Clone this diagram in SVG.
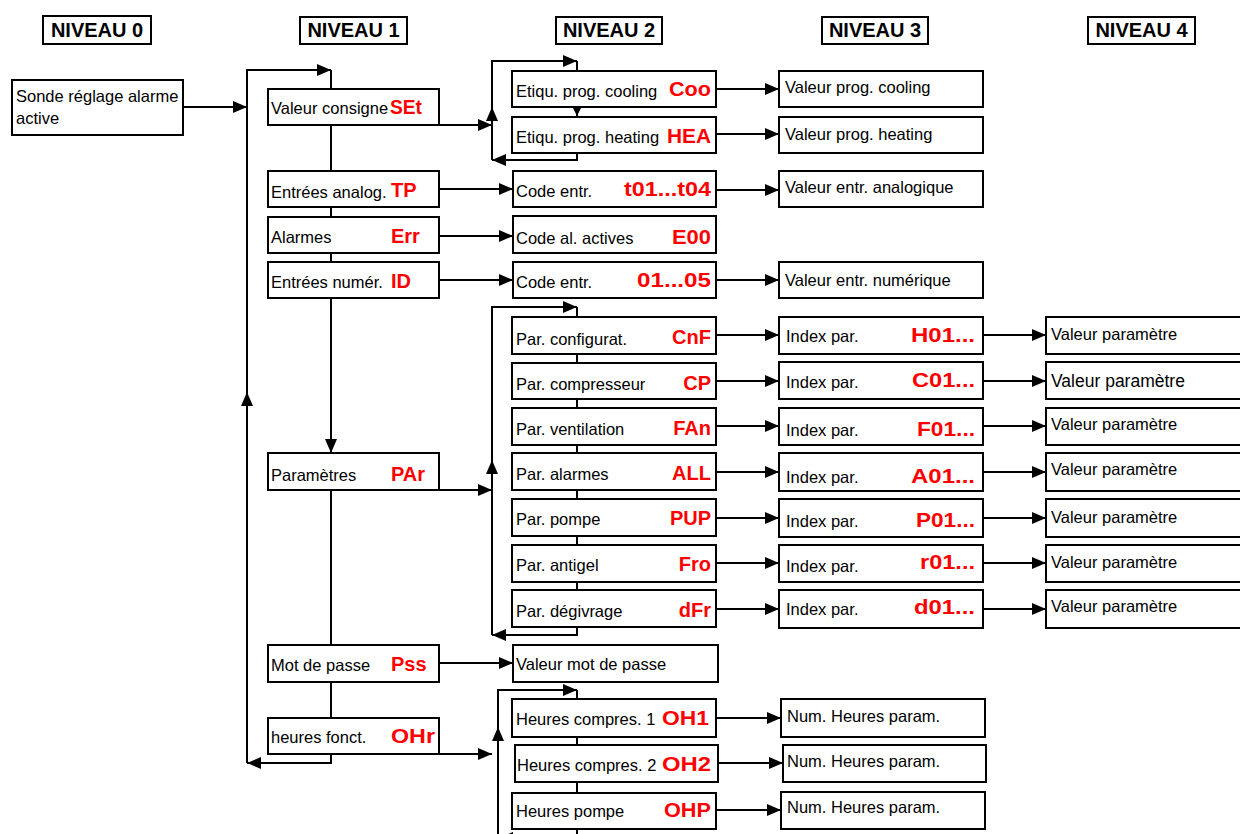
<svg xmlns="http://www.w3.org/2000/svg" width="1240" height="834" viewBox="0 0 1240 834">
<style>
.box{fill:#fff;stroke:#000;stroke-width:2}
.t{font-family:"Liberation Sans",Arial,sans-serif;font-size:16.5px;fill:#000}
.c{font-family:"Liberation Sans",Arial,sans-serif;font-size:20px;font-weight:bold;fill:#ff0000}
.e{text-anchor:end}
.h{font-family:"Liberation Sans",Arial,sans-serif;font-size:20px;font-weight:bold;fill:#000;text-anchor:middle}
.ln{fill:none;stroke:#000;stroke-width:2}
</style>
<defs>
<marker id="a" markerUnits="userSpaceOnUse" markerWidth="14" markerHeight="12" refX="14" refY="6" orient="auto"><path d="M0,0L14,6L0,12z" fill="#000"/></marker>
<marker id="s" markerUnits="userSpaceOnUse" markerWidth="8" markerHeight="8" refX="8" refY="4" orient="auto"><path d="M0,0L8,4L0,8z" fill="#000"/></marker>
</defs>

<g id="titles">
<rect class="box" x="43" y="16" width="108" height="28"/><text class="h" x="97" y="37">NIVEAU 0</text>
<rect class="box" x="300" y="17" width="107" height="27"/><text class="h" x="353.5" y="37">NIVEAU 1</text>
<rect class="box" x="556" y="17" width="106" height="27"/><text class="h" x="609" y="37">NIVEAU 2</text>
<rect class="box" x="822" y="17" width="106" height="27"/><text class="h" x="875" y="37">NIVEAU 3</text>
<rect class="box" x="1088" y="17" width="107" height="27"/><text class="h" x="1141.5" y="37">NIVEAU 4</text>
</g>

<g id="connectors">
<path class="ln" d="M183,107L247,107" marker-end="url(#a)"/>
<path class="ln" d="M247,763L247,70L331,70" marker-end="url(#a)"/>
<path class="ln" d="M331,70L331,89"/>
<path class="ln" d="M247,420L247,392" marker-end="url(#a)"/>
<path class="ln" d="M331,125L331,171M331,207L331,217M331,253L331,262"/>
<path class="ln" d="M331,298L331,453" marker-end="url(#a)"/>
<path class="ln" d="M331,490L331,645M331,682L331,718"/>
<path class="ln" d="M331,754L331,763L247,763" marker-end="url(#a)"/>

<path class="ln" d="M439,125L492,125" marker-end="url(#a)"/>
<path class="ln" d="M439,189L513,189" marker-end="url(#a)"/>
<path class="ln" d="M439,236L513,236" marker-end="url(#a)"/>
<path class="ln" d="M439,280L513,280" marker-end="url(#a)"/>
<path class="ln" d="M439,490L492,490" marker-end="url(#a)"/>
<path class="ln" d="M439,663L513,663" marker-end="url(#a)"/>
<path class="ln" d="M439,754L492,754" marker-end="url(#a)"/>

<path class="ln" d="M577,153L577,160L492,160" marker-end="url(#a)"/>
<path class="ln" d="M492,160L492,61L577,61" marker-end="url(#a)"/>
<path class="ln" d="M577,61L577,71"/>
<path class="ln" d="M492,125L492,107" marker-end="url(#a)"/>
<path class="ln" d="M577,107L577,116" marker-end="url(#s)"/>

<path class="ln" d="M577,354L577,363M577,399L577,408M577,445L577,453M577,490L577,499M577,536L577,545M577,582L577,590"/>
<path class="ln" d="M577,627L577,635L492,635" marker-end="url(#a)"/>
<path class="ln" d="M492,635L492,307L577,307" marker-end="url(#a)"/>
<path class="ln" d="M577,307L577,317"/>
<path class="ln" d="M492,490L492,460" marker-end="url(#a)"/>

<path class="ln" d="M498,840L498,690L577,690" marker-end="url(#a)"/>
<path class="ln" d="M577,690L577,699M577,737L577,745M577,782L577,793"/>
<path class="ln" d="M498,760L498,727" marker-end="url(#a)"/>
<path class="ln" d="M577,829L577,838L499,838" marker-end="url(#a)"/>

<path class="ln" d="M716,89L779,89" marker-end="url(#a)"/>
<path class="ln" d="M716,134L779,134" marker-end="url(#a)"/>
<path class="ln" d="M716,190L779,190" marker-end="url(#a)"/>
<path class="ln" d="M716,280L779,280" marker-end="url(#a)"/>
<path class="ln" d="M716,335L779,335" marker-end="url(#a)"/>
<path class="ln" d="M716,381L779,381" marker-end="url(#a)"/>
<path class="ln" d="M716,426L779,426" marker-end="url(#a)"/>
<path class="ln" d="M716,472L779,472" marker-end="url(#a)"/>
<path class="ln" d="M716,518L779,518" marker-end="url(#a)"/>
<path class="ln" d="M716,563L779,563" marker-end="url(#a)"/>
<path class="ln" d="M716,609L779,609" marker-end="url(#a)"/>
<path class="ln" d="M716,718L781,718" marker-end="url(#a)"/>
<path class="ln" d="M718,763L783,763" marker-end="url(#a)"/>
<path class="ln" d="M716,810L781,810" marker-end="url(#a)"/>

<path class="ln" d="M983,335L1046,335" marker-end="url(#a)"/>
<path class="ln" d="M983,381L1046,381" marker-end="url(#a)"/>
<path class="ln" d="M983,426L1046,426" marker-end="url(#a)"/>
<path class="ln" d="M983,472L1046,472" marker-end="url(#a)"/>
<path class="ln" d="M983,518L1046,518" marker-end="url(#a)"/>
<path class="ln" d="M983,563L1046,563" marker-end="url(#a)"/>
<path class="ln" d="M983,609L1046,609" marker-end="url(#a)"/>
</g>

<g id="n0-sonde"><rect class="box" x="12" y="80" width="171" height="55"/><text class="t" x="16" y="102">Sonde réglage alarme</text><text class="t" x="16" y="124">active</text></g>

<g id="n1-set"><rect class="box" x="268" y="89" width="171" height="36"/><text class="t" x="271" y="114">Valeur consigne</text><text class="c" x="390" y="114" textLength="32" lengthAdjust="spacingAndGlyphs">SEt</text></g>
<g id="n1-tp"><rect class="box" x="268" y="171" width="171" height="36"/><text class="t" x="271" y="198">Entrées analog.</text><text class="c" x="391" y="197">TP</text></g>
<g id="n1-err"><rect class="box" x="268" y="217" width="171" height="36"/><text class="t" x="271" y="243">Alarmes</text><text class="c" x="391" y="243">Err</text></g>
<g id="n1-id"><rect class="box" x="268" y="262" width="171" height="36"/><text class="t" x="271" y="288">Entrées numér.</text><text class="c" x="391" y="288">ID</text></g>
<g id="n1-par"><rect class="box" x="268" y="453" width="171" height="37"/><text class="t" x="271" y="481">Paramètres</text><text class="c" x="391" y="481">PAr</text></g>
<g id="n1-pss"><rect class="box" x="268" y="645" width="171" height="37"/><text class="t" x="271" y="671">Mot de passe</text><text class="c" x="391" y="671">Pss</text></g>
<g id="n1-ohr"><rect class="box" x="268" y="718" width="171" height="36"/><text class="t" x="271" y="743">heures fonct.</text><text class="c" x="391" y="743" textLength="44" lengthAdjust="spacingAndGlyphs">OHr</text></g>

<g id="n2-coo"><rect class="box" x="512" y="71" width="204" height="36"/><text class="t" x="516" y="97">Etiqu. prog. cooling</text><text class="c e" x="711" y="96" textLength="42" lengthAdjust="spacingAndGlyphs">Coo</text></g>
<g id="n2-hea"><rect class="box" x="512" y="117" width="204" height="36"/><text class="t" x="516" y="143">Etiqu. prog. heating</text><text class="c e" x="711" y="143" textLength="44" lengthAdjust="spacingAndGlyphs">HEA</text></g>
<g id="n2-t01"><rect class="box" x="513" y="171" width="203" height="36"/><text class="t" x="516" y="197">Code entr.</text><text class="c e" x="711" y="196" textLength="87" lengthAdjust="spacingAndGlyphs">t01...t04</text></g>
<g id="n2-e00"><rect class="box" x="513" y="216" width="203" height="37"/><text class="t" x="516" y="244">Code al. actives</text><text class="c e" x="711" y="244" textLength="39" lengthAdjust="spacingAndGlyphs">E00</text></g>
<g id="n2-01"><rect class="box" x="513" y="262" width="203" height="36"/><text class="t" x="516" y="288">Code entr.</text><text class="c e" x="711" y="287" textLength="74" lengthAdjust="spacingAndGlyphs">01...05</text></g>
<g id="n2-cnf"><rect class="box" x="512" y="317" width="204" height="37"/><text class="t" x="516" y="345">Par. configurat.</text><text class="c e" x="711" y="344">CnF</text></g>
<g id="n2-cp"><rect class="box" x="512" y="363" width="204" height="36"/><text class="t" x="516" y="390">Par. compresseur</text><text class="c e" x="711" y="390">CP</text></g>
<g id="n2-fan"><rect class="box" x="512" y="408" width="204" height="37"/><text class="t" x="516" y="435">Par. ventilation</text><text class="c e" x="711" y="435">FAn</text></g>
<g id="n2-all"><rect class="box" x="512" y="453" width="204" height="37"/><text class="t" x="516" y="480">Par. alarmes</text><text class="c e" x="711" y="480">ALL</text></g>
<g id="n2-pup"><rect class="box" x="512" y="499" width="204" height="37"/><text class="t" x="516" y="525">Par. pompe</text><text class="c e" x="711" y="525">PUP</text></g>
<g id="n2-fro"><rect class="box" x="512" y="545" width="204" height="37"/><text class="t" x="516" y="571">Par. antigel</text><text class="c e" x="711" y="571">Fro</text></g>
<g id="n2-dfr"><rect class="box" x="512" y="590" width="204" height="37"/><text class="t" x="516" y="617">Par. dégivrage</text><text class="c e" x="711" y="617">dFr</text></g>
<g id="n2-pwd"><rect class="box" x="513" y="645" width="205" height="37"/><text class="t" x="516" y="670">Valeur mot de passe</text></g>
<g id="n2-oh1"><rect class="box" x="512" y="699" width="204" height="38"/><text class="t" x="516" y="725">Heures compres. 1</text><text class="c e" x="709" y="725" textLength="47" lengthAdjust="spacingAndGlyphs">OH1</text></g>
<g id="n2-oh2"><rect class="box" x="515" y="745" width="203" height="37"/><text class="t" x="517" y="771">Heures compres. 2</text><text class="c e" x="711" y="771" textLength="49" lengthAdjust="spacingAndGlyphs">OH2</text></g>
<g id="n2-ohp"><rect class="box" x="512" y="793" width="204" height="36"/><text class="t" x="516" y="817">Heures pompe</text><text class="c e" x="711" y="817" textLength="47" lengthAdjust="spacingAndGlyphs">OHP</text></g>

<g id="n3-cool"><rect class="box" x="779" y="71" width="204" height="36"/><text class="t" x="785" y="93">Valeur prog. cooling</text></g>
<g id="n3-heat"><rect class="box" x="779" y="117" width="204" height="36"/><text class="t" x="785" y="140">Valeur prog. heating</text></g>
<g id="n3-ana"><rect class="box" x="779" y="171" width="204" height="36"/><text class="t" x="785" y="193">Valeur entr. analogique</text></g>
<g id="n3-num"><rect class="box" x="779" y="262" width="204" height="36"/><text class="t" x="785" y="286">Valeur entr. numérique</text></g>
<g id="n3-h01"><rect class="box" x="779" y="317" width="204" height="37"/><text class="t" x="786" y="342">Index par.</text><text class="c e" x="975" y="342" textLength="64" lengthAdjust="spacingAndGlyphs">H01...</text></g>
<g id="n3-c01"><rect class="box" x="779" y="362" width="204" height="37"/><text class="t" x="786" y="388">Index par.</text><text class="c e" x="975" y="387" textLength="63" lengthAdjust="spacingAndGlyphs">C01...</text></g>
<g id="n3-f01"><rect class="box" x="779" y="408" width="204" height="37"/><text class="t" x="786" y="436">Index par.</text><text class="c e" x="975" y="436" textLength="58" lengthAdjust="spacingAndGlyphs">F01...</text></g>
<g id="n3-a01"><rect class="box" x="779" y="453" width="204" height="38"/><text class="t" x="786" y="483">Index par.</text><text class="c e" x="975" y="483" textLength="64" lengthAdjust="spacingAndGlyphs">A01...</text></g>
<g id="n3-p01"><rect class="box" x="779" y="499" width="204" height="38"/><text class="t" x="786" y="527">Index par.</text><text class="c e" x="975" y="527" textLength="59" lengthAdjust="spacingAndGlyphs">P01...</text></g>
<g id="n3-r01"><rect class="box" x="779" y="545" width="204" height="37"/><text class="t" x="786" y="572">Index par.</text><text class="c e" x="975" y="569" textLength="55" lengthAdjust="spacingAndGlyphs">r01...</text></g>
<g id="n3-d01"><rect class="box" x="779" y="590" width="204" height="38"/><text class="t" x="786" y="615">Index par.</text><text class="c e" x="975" y="614" textLength="61" lengthAdjust="spacingAndGlyphs">d01...</text></g>
<g id="n3-nh1"><rect class="box" x="781" y="699" width="204" height="38"/><text class="t" x="787" y="722">Num. Heures param.</text></g>
<g id="n3-nh2"><rect class="box" x="783" y="745" width="203" height="37"/><text class="t" x="787" y="767">Num. Heures param.</text></g>
<g id="n3-nh3"><rect class="box" x="781" y="792" width="204" height="37"/><text class="t" x="787" y="813">Num. Heures param.</text></g>

<g id="n4-1"><rect class="box" x="1046" y="317" width="200" height="37"/><text class="t" x="1051" y="340">Valeur paramètre</text></g>
<g id="n4-2"><rect class="box" x="1046" y="362" width="200" height="37"/><text class="t" x="1051" y="387" style="font-size:17.5px">Valeur paramètre</text></g>
<g id="n4-3"><rect class="box" x="1046" y="408" width="200" height="37"/><text class="t" x="1051" y="430">Valeur paramètre</text></g>
<g id="n4-4"><rect class="box" x="1046" y="453" width="200" height="38"/><text class="t" x="1051" y="475">Valeur paramètre</text></g>
<g id="n4-5"><rect class="box" x="1046" y="499" width="200" height="38"/><text class="t" x="1051" y="523">Valeur paramètre</text></g>
<g id="n4-6"><rect class="box" x="1046" y="545" width="200" height="37"/><text class="t" x="1051" y="568">Valeur paramètre</text></g>
<g id="n4-7"><rect class="box" x="1046" y="590" width="200" height="38"/><text class="t" x="1051" y="612">Valeur paramètre</text></g>
</svg>
